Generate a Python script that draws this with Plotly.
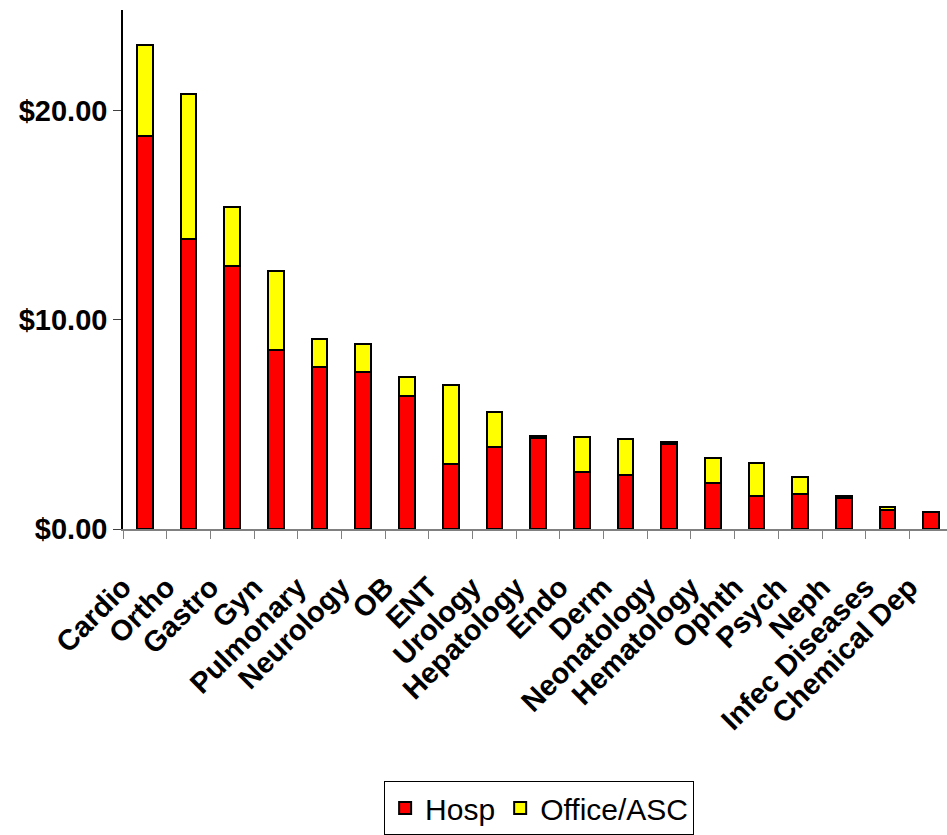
import plotly.graph_objects as go

specialties = ["Cardio", "Ortho", "Gastro", "Gyn", "Pulmonary", "Neurology", "OB", "ENT",
               "Urology", "Hepatology", "Endo", "Derm", "Neonatology", "Hematology",
               "Ophth", "Psych", "Neph", "Infec Diseases", "Chemical Dep"]
hosp = [18.76, 13.84, 12.55, 8.54, 7.76, 7.49, 6.35, 3.10, 3.91, 4.34, 2.72, 2.58,
        4.05, 2.20, 1.58, 1.67, 1.48, 0.93, 0.81]
office_asc = [4.39, 6.97, 2.84, 3.77, 1.31, 1.34, 0.91, 3.77, 1.67, 0.10, 1.67, 1.72,
              0.10, 1.19, 1.57, 0.81, 0.10, 0.10, 0.0]
y_ticks = [0, 10, 20]

bar_width = 0.36
outline = dict(color="black", width=2)
font_family = "Liberation Sans, Arial, sans-serif"

fig = go.Figure()
fig.add_trace(go.Bar(x=specialties, y=hosp, name="Hosp", width=bar_width,
                     marker=dict(color="#FF0000", line=outline)))
fig.add_trace(go.Bar(x=specialties, y=office_asc, name="Office/ASC", width=bar_width,
                     marker=dict(color="#FFFF00", line=outline)))

fig.update_layout(
    barmode="stack",
    width=947, height=835,
    margin=dict(l=123, r=0, t=10, b=305),
    paper_bgcolor="white", plot_bgcolor="white",
    font=dict(family=font_family, color="black"),
    showlegend=True,
    legend=dict(orientation="h", x=0.505, xanchor="center", y=-0.485, yanchor="top",
                font=dict(size=30, color="black", family=font_family),
                bordercolor="black", borderwidth=1, bgcolor="white",
                traceorder="normal"),
    xaxis=dict(range=[-0.5, 18.36], showline=True, linecolor="#808080", linewidth=1.5,
               ticks="outside", tickson="boundaries", ticklen=8, tickcolor="#808080",
               tickangle=-45, showgrid=False,
               ticklabelstandoff=28, ticklabelshift=-22,
               tickfont=dict(size=29, family=font_family, color="black", weight="bold")),
    yaxis=dict(range=[0, 24.8], showline=True, linecolor="black", linewidth=1.5,
               ticks="outside", ticklen=8, tickcolor="#404040",
               tickvals=y_ticks, tickformat="$.2f",
               showgrid=False, zeroline=False,
               tickfont=dict(size=29, family=font_family, color="black", weight="bold")),
)

fig.write_html("out.html")
